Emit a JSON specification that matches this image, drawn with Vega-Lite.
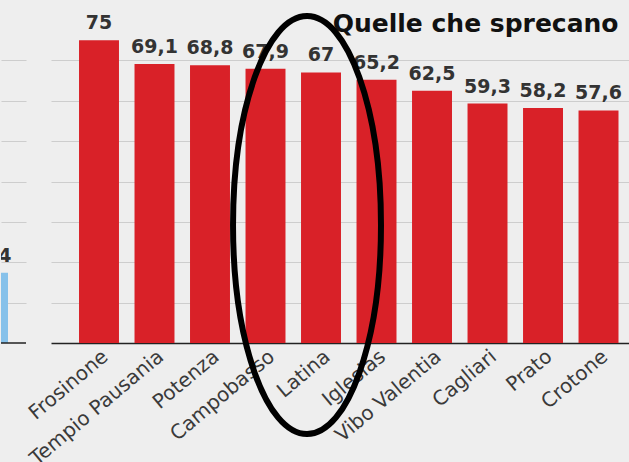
{
  "$schema": "https://vega.github.io/schema/vega-lite/v6.json",
  "background": "#eeeeee",
  "padding": {"left": 0, "top": 4, "right": 0, "bottom": 0},
  "config": {
    "view": {"stroke": null},
    "locale": {"number": {"decimal": ",", "thousands": ".", "grouping": [3], "currency": ["€", ""]}},
    "axis": {"gridColor": "#cdcdcd", "gridWidth": 1}
  },
  "datasets": {
    "left": [{"city": "altro", "value": 17.4}],
    "right": [
      {"city": "Frosinone", "value": 75},
      {"city": "Tempio Pausania", "value": 69.1},
      {"city": "Potenza", "value": 68.8},
      {"city": "Campobasso", "value": 67.9},
      {"city": "Latina", "value": 67},
      {"city": "Iglesias", "value": 65.2},
      {"city": "Vibo Valentia", "value": 62.5},
      {"city": "Cagliari", "value": 59.3},
      {"city": "Prato", "value": 58.2},
      {"city": "Crotone", "value": 57.6}
    ]
  },
  "bounds": "flush",
  "spacing": 25,
  "hconcat": [
    {
      "width": 25,
      "height": 323,
      "data": {"name": "left"},
      "encoding": {
        "x": {"field": "city", "type": "nominal", "scale": {"paddingInner": 0, "paddingOuter": 0}, "axis": null},
        "y": {"field": "value", "type": "quantitative", "scale": {"domain": [0, 80]}, "axis": {"values": [10, 20, 30, 40, 50, 60, 70], "grid": true, "labels": false, "ticks": false, "domain": false, "title": null}}
      },
      "layer": [
        {"mark": {"type": "bar", "color": "#86c1ea", "clip": true, "width": 40, "xOffset": -25.5}},
        {"mark": {"type": "text", "clip": true, "dy": -11, "xOffset": -25.5, "baseline": "alphabetic", "font": "DejaVu Sans", "fontWeight": "bold", "fontSize": 19, "color": "#333333"},
         "encoding": {"text": {"field": "value", "type": "quantitative", "format": "~f"}}},
        {"mark": {"type": "rule", "color": "#222222", "strokeWidth": 1.5}, "encoding": {"x": {"value": 0}, "x2": {"value": 25}, "y": {"datum": 0}}}
      ]
    },
    {
      "width": 579,
      "height": 323,
      "data": {"name": "right"},
      "layer": [
        {"mark": {"type": "bar", "color": "#d92128"},
         "encoding": {
          "x": {"field": "city", "type": "nominal", "sort": null,
                "scale": {"paddingInner": 0.28, "paddingOuter": 0.356, "align": 0.709},
                "axis": {"title": null, "labelAngle": -40, "labelFont": "DejaVu Sans", "labelFontSize": 20, "labelColor": "#3a3a3a", "ticks": false, "domainColor": "#222222", "domainWidth": 1.5, "labelPadding": 3, "labelAlign": "right", "labelBaseline": "top"}},
          "y": {"field": "value", "type": "quantitative", "scale": {"domain": [0, 80]}, "axis": {"values": [10, 20, 30, 40, 50, 60, 70], "grid": true, "labels": false, "ticks": false, "domain": false, "title": null}}
         }},
        {"mark": {"type": "text", "dy": -11, "baseline": "alphabetic", "font": "DejaVu Sans", "fontWeight": "bold", "fontSize": 19, "color": "#333333"},
         "encoding": {
          "x": {"field": "city", "type": "nominal", "sort": null},
          "y": {"field": "value", "type": "quantitative"},
          "text": {"field": "value", "type": "quantitative", "format": "~f"}}},
        {"data": {"values": [{"titolo": "Quelle che sprecano"}]},
         "mark": {"type": "text", "align": "right", "baseline": "alphabetic", "xOffset": 20, "font": "DejaVu Sans", "fontWeight": "bold", "fontSize": 25, "color": "#111111"},
         "encoding": {"x": {"datum": "Crotone"}, "y": {"datum": 77}, "text": {"field": "titolo"}}},
        {"data": {"values": [{"evidenza": "Latina"}]},
         "mark": {"type": "point", "shape": "M0,-1C0.1955,-1,0.354,-0.5523,0.354,0C0.354,0.5523,0.1955,1,0,1C-0.1955,1,-0.354,0.5523,-0.354,0C-0.354,-0.5523,-0.1955,-1,0,-1Z", "size": 174724, "filled": false, "stroke": "#000000", "strokeWidth": 6, "opacity": 1, "xOffset": -14},
         "encoding": {"x": {"datum": "Latina"}, "y": {"datum": 29.2}}}
      ]
    }
  ]
}
